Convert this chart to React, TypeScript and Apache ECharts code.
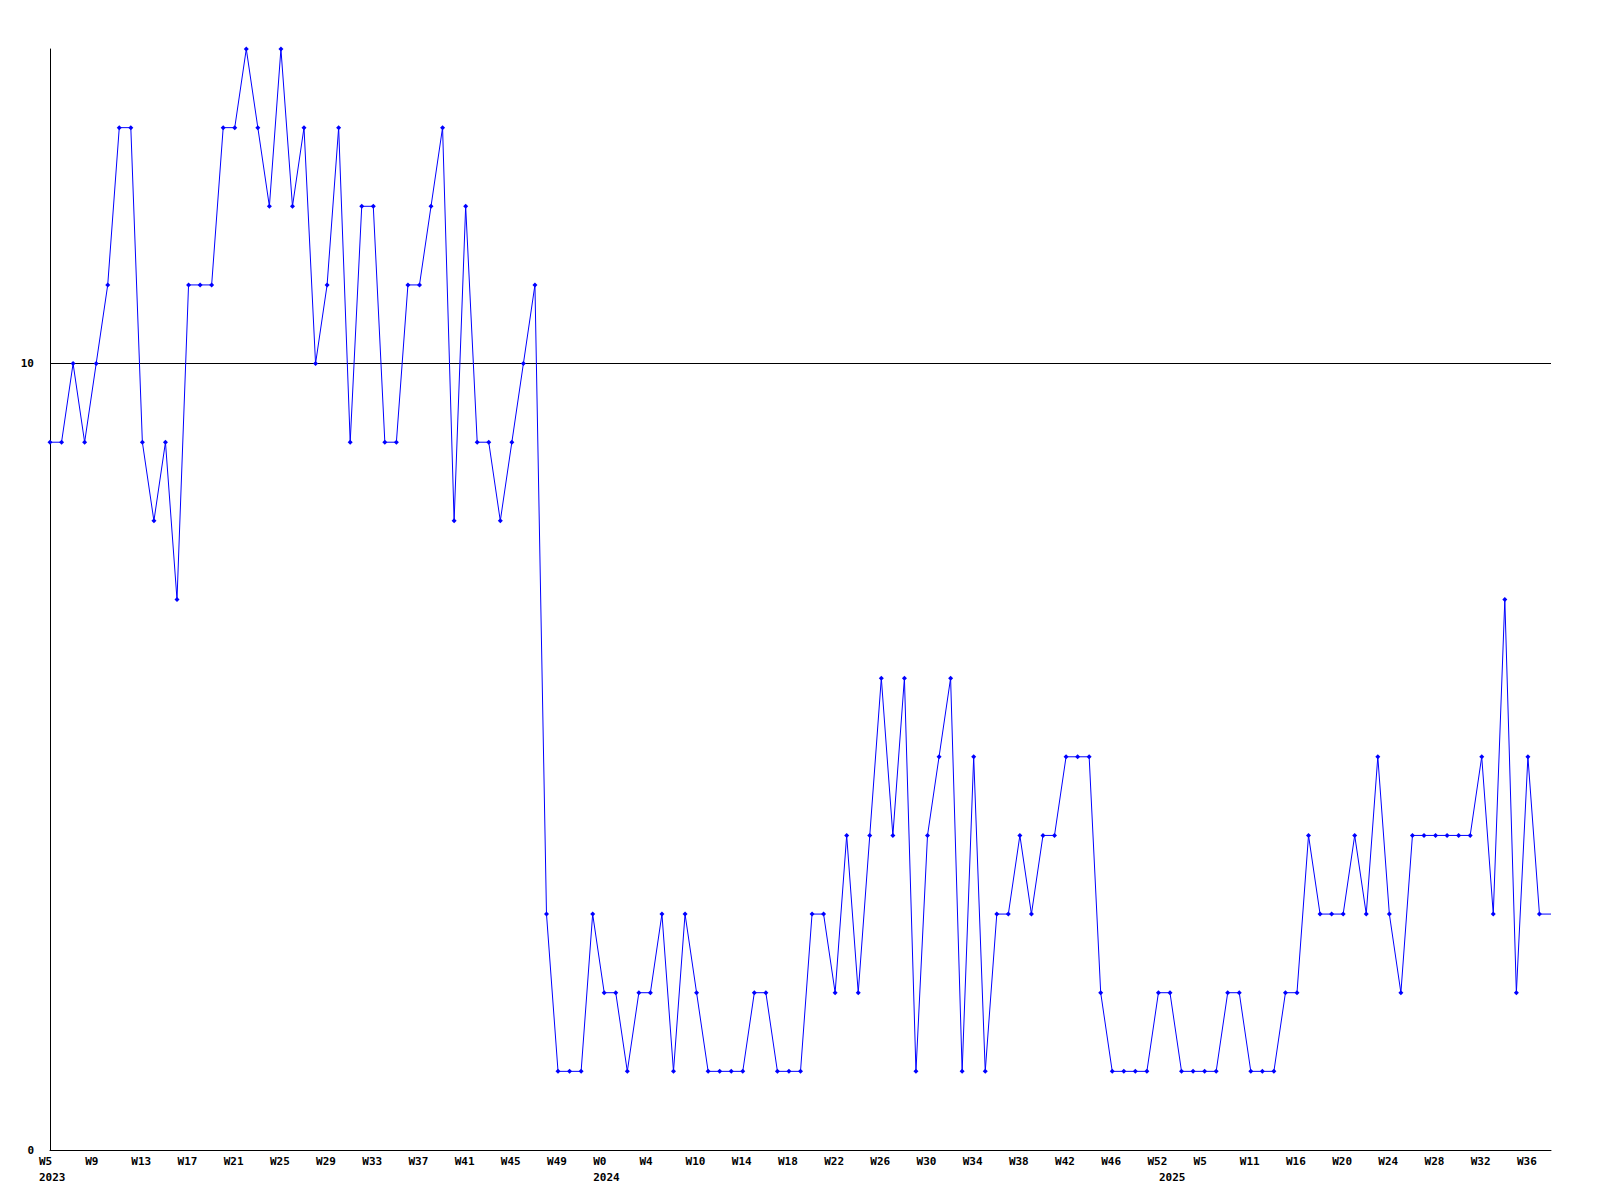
import React, { useEffect, useRef } from "react";
import * as echarts from "echarts";

const values: number[] = [
  9, 9, 10, 9, 10, 11, 13, 13, 9, 8,
  9, 7, 11, 11, 11, 13, 13, 14, 13, 12,
  14, 12, 13, 10, 11, 13, 9, 12, 12, 9,
  9, 11, 11, 12, 13, 8, 12, 9, 9, 8,
  9, 10, 11, 3, 1, 1, 1, 3, 2, 2,
  1, 2, 2, 3, 1, 3, 2, 1, 1, 1,
  1, 2, 2, 1, 1, 1, 3, 3, 2, 4,
  2, 4, 6, 4, 6, 1, 4, 5, 6, 1,
  5, 1, 3, 3, 4, 3, 4, 4, 5, 5,
  5, 2, 1, 1, 1, 1, 2, 2, 1, 1,
  1, 1, 2, 2, 1, 1, 1, 2, 2, 4,
  3, 3, 3, 4, 3, 5, 3, 2, 4, 4,
  4, 4, 4, 4, 5, 3, 7, 2, 5, 3,
  3,
];

// one week label every 4 points
const weekLabels: string[] = [
  "W5", "W9", "W13", "W17", "W21", "W25", "W29", "W33", "W37", "W41", "W45",
  "W49", "W0", "W4", "W10", "W14", "W18", "W22", "W26", "W30", "W34", "W38",
  "W42", "W46", "W52", "W5", "W11", "W16", "W20", "W24", "W28", "W32", "W36",
];
const yearLabelIndex: number[] = [0, 48, 97];
const yearLabels: string[] = ["2023", "2024", "2025"];
const yTicks: number[] = [0, 10];
const referenceLine = 10;

const categories = values.map((_, i) => String(i));

export default function App() {
  const ref = useRef<HTMLDivElement>(null);
  useEffect(() => {
    if (!ref.current) return;
    const chart = echarts.init(ref.current, null, { renderer: "svg" });
    const last = values.length - 1;
    chart.setOption({
      animation: false,
      backgroundColor: "#ffffff",
      grid: { left: 50, right: 49, top: 49, bottom: 50, containLabel: false },
      xAxis: {
        type: "category",
        data: categories,
        boundaryGap: false,
        axisLine: { show: true, lineStyle: { color: "#000", width: 1 } },
        axisTick: { show: false },
        splitLine: { show: false },
        axisLabel: {
          interval: (index: number) =>
            index % 4 === 0 || yearLabelIndex.indexOf(index) >= 0,
          formatter: (_v: string, index: number) => {
            const w = index % 4 === 0 ? weekLabels[index / 4] ?? "" : "";
            const yi = yearLabelIndex.indexOf(index);
            const y = yi >= 0 ? yearLabels[yi] : "";
            return `${w}\n${y}`;
          },
          align: "left",
          padding: [0, 0, 0, -11],
          margin: 3,
          lineHeight: 16,
          color: "#000",
          fontFamily: "DejaVu Sans Mono",
          fontWeight: "bold",
          fontSize: 11,
        },
      },
      yAxis: {
        type: "value",
        min: 0,
        max: 14,
        interval: 10,
        axisLine: { show: true, lineStyle: { color: "#000", width: 1 } },
        axisTick: { show: false },
        splitLine: { show: false },
        axisLabel: {
          margin: 16,
          color: "#000",
          fontFamily: "DejaVu Sans Mono",
          fontWeight: "bold",
          fontSize: 11,
          formatter: (v: number) => (yTicks.indexOf(v) >= 0 ? String(v) : ""),
        },
      },
      series: [
        {
          type: "line",
          data: values.map((v, i) =>
            i === last ? { value: v, symbol: "none" } : v
          ),
          symbol: "diamond",
          symbolSize: 5,
          showAllSymbol: true,
          lineStyle: { color: "#0000ff", width: 1 },
          itemStyle: { color: "#0000ff" },
          z: 3,
          markLine: {
            silent: true,
            symbol: "none",
            label: { show: false },
            lineStyle: { color: "#000", width: 1, type: "solid" },
            data: [{ yAxis: referenceLine }],
            z: 1,
          },
        },
      ],
    });
    return () => chart.dispose();
  }, []);
  return (
    <div
      ref={ref}
      style={{ position: "absolute", left: 0, top: 0, width: 1600, height: 1200 }}
    />
  );
}
